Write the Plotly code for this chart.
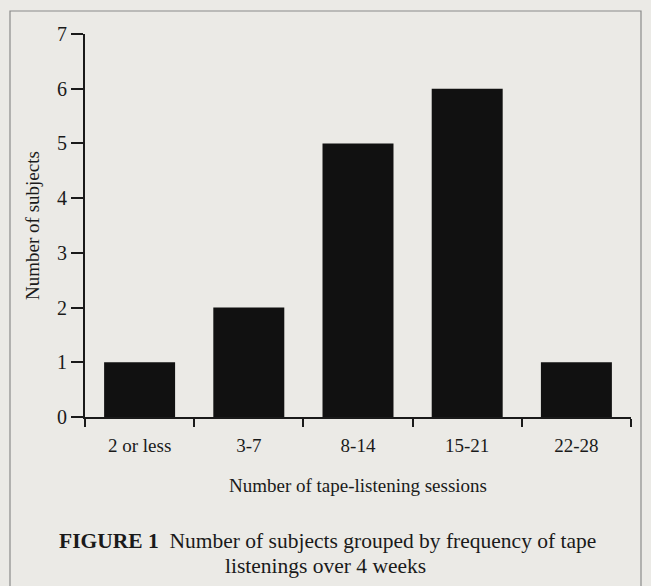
import plotly.graph_objects as go

categories = ["2 or less", "3-7", "8-14", "15-21", "22-28"]
subjects = [1, 2, 5, 6, 1]
y_ticks = [0, 1, 2, 3, 4, 5, 6, 7]

W, H = 651, 586
L, R, T, B = 85, 20, 34, 169
pw, ph = W - L - R, H - T - B

def px(x):
    return (x - L) / pw

def py(y):
    return (H - B - y) / ph

bg = "#ebeae6"
ink = "#1a1a1a"
font = "Liberation Serif"

fig = go.Figure(go.Bar(x=categories, y=subjects, marker=dict(color="#111111", line=dict(width=0)), width=0.65))

fig.update_layout(
    width=W, height=H,
    margin=dict(l=L, r=R, t=T, b=B),
    paper_bgcolor=bg, plot_bgcolor=bg,
    showlegend=False,
    font=dict(family=font, size=19, color=ink),
    xaxis=dict(type="category", tickson="boundaries", ticks="outside", ticklen=8, tickwidth=2,
               tickcolor=ink, showline=True, linecolor=ink, linewidth=2, showgrid=False,
               range=[-0.5, 4.5], tickfont=dict(size=19, family=font), ticklabelstandoff=10,
               title=dict(text="Number of tape-listening sessions", font=dict(size=19, family=font), standoff=24)),
    yaxis=dict(range=[0, 7], tickvals=y_ticks, ticks="outside", ticklen=12, tickwidth=2,
               tickcolor=ink, showline=True, linecolor=ink, linewidth=2, showgrid=False, zeroline=False,
               tickfont=dict(size=20, family=font),
               title=dict(text="Number of subjects", font=dict(size=19, family=font), standoff=12)),
    shapes=[dict(type="rect", xref="paper", yref="paper",
                 x0=px(10), x1=px(641), y0=py(600), y1=py(11),
                 line=dict(color="#8a8a8a", width=1.2), fillcolor="rgba(0,0,0,0)", layer="below")],
    annotations=[
        dict(xref="paper", yref="paper", x=px(327), y=py(541), showarrow=False,
             text="<b>FIGURE 1</b>  Number of subjects grouped by frequency of tape",
             font=dict(size=21.5, family=font, color=ink), xanchor="center", yanchor="middle"),
        dict(xref="paper", yref="paper", x=px(325), y=py(566), showarrow=False,
             text="listenings over 4 weeks",
             font=dict(size=21.5, family=font, color=ink), xanchor="center", yanchor="middle"),
    ],
)

fig.write_html("out.html", config={"displayModeBar": False},
               post_script="document.body.style.margin='0';document.body.style.background='%s';" % bg)
